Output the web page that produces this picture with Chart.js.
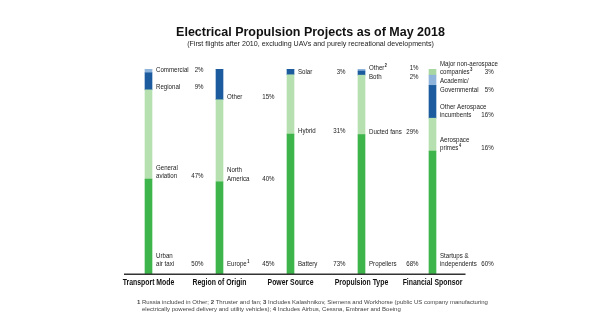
<!DOCTYPE html>
<html><head><meta charset="utf-8">
<script src="https://cdn.jsdelivr.net/npm/chart.js@4/dist/chart.umd.min.js"></script>
<style>html,body{margin:0;padding:0;background:#fff;overflow:hidden}</style>
</head><body>
<canvas id="c" width="595" height="335"></canvas>
<script>
// ---- data ----
const categories = ['Transport Mode', 'Region of Origin', 'Power Source', 'Propulsion Type', 'Financial Sponsor'];
// segments listed bottom -> top
const transportLabels = ['Urban\nair taxi', 'General\naviation', 'Regional', 'Commercial'];
const transportValues = [50, 47, 9, 2];
const regionLabels = ['Europe^1', 'North\nAmerica', 'Other'];
const regionValues = [45, 40, 15];
const powerLabels = ['Battery', 'Hybrid', 'Solar'];
const powerValues = [73, 31, 3];
const propulsionLabels = ['Propellers', 'Ducted fans', 'Both', 'Other^2'];
const propulsionValues = [68, 29, 2, 1];
const sponsorLabels = ['Startups &\nindependents', 'Aerospace\nprimes^4', 'Other Aerospace\nincumbents', 'Academic/\nGovernmental', 'Major non-aerospace\ncompanies^3'];
const sponsorValues = [60, 16, 16, 5, 3];

const titleText = 'Electrical Propulsion Projects as of May 2018';
const subtitleText = '(First flights after 2010, excluding UAVs and purely recreational developments)';
const footnoteLine1 = [['1', true], [' Russia included in Other; ', false], ['2', true], [' Thruster and fan; ', false], ['3', true], [' Includes Kalashnikov, Siemens and Workhorse (public US company manufacturing', false]];
const footnoteLine2 = [['electrically powered delivery and utility vehicles); ', false], ['4', true], [' Includes Airbus, Cessna, Embraer and Boeing', false]];

// ---- build ----
const allLabels = [transportLabels, regionLabels, powerLabels, propulsionLabels, sponsorLabels];
const allValues = [transportValues, regionValues, powerValues, propulsionValues, sponsorValues];
const levelColors = ['#3db54a', '#b6e0b0', '#1b5b9e', '#8fb4dc', '#a9d7a2'];
const nLevels = Math.max(...allValues.map(v => v.length));
const totals = allValues.map(v => v.reduce((a, b) => a + b, 0));
const datasets = [];
for (let l = 0; l < nLevels; l++) {
  datasets.push({
    data: allValues.map((v, i) => (l < v.length ? v[l] / totals[i] * 100 : 0)),
    backgroundColor: levelColors[l],
    borderWidth: 0,
    barThickness: 7,
    stack: 's'
  });
}

const SANS = '"Liberation Sans", Arial, Helvetica, sans-serif';
const SX = 0.83; // condensed look
const FS = 7.4;

function narrow(ctx, text, x, y, align) {
  ctx.save();
  ctx.translate(x, y);
  ctx.scale(SX, 1);
  ctx.textAlign = align;
  ctx.fillText(text, 0, 0);
  ctx.restore();
  return ctx.measureText(text).width * SX;
}
function richWidth(ctx, text) {
  const parts = text.split('^');
  ctx.font = `${FS}px ${SANS}`;
  let w = ctx.measureText(parts[0]).width * SX;
  if (parts[1]) { ctx.font = `bold ${FS * 0.62}px ${SANS}`; w += ctx.measureText(parts[1]).width * SX + 0.6; }
  return w;
}
function drawRich(ctx, text, x, y) {
  const parts = text.split('^');
  ctx.font = `${FS}px ${SANS}`;
  const w = narrow(ctx, parts[0], x, y, 'left');
  if (parts[1]) {
    ctx.font = `bold ${FS * 0.62}px ${SANS}`;
    narrow(ctx, parts[1], x + w + 0.5, y - FS * 0.34, 'left');
  }
}

const textPlugin = {
  id: 'texts',
  afterDraw(chart) {
    const ctx = chart.ctx;
    const xs = chart.scales.x;
    ctx.save();
    ctx.fillStyle = '#111';
    ctx.textBaseline = 'middle';
    // title
    ctx.textAlign = 'center';
    ctx.font = `bold 12.5px ${SANS}`;
    ctx.fillText(titleText, 310.5, 32.5);
    ctx.font = `7.1px ${SANS}`;
    ctx.fillStyle = '#222';
    ctx.fillText(subtitleText, 310.5, 44);

    // baseline
    const x0 = xs.getPixelForValue(0), x4 = xs.getPixelForValue(categories.length - 1);
    const yb = chart.scales.y.getPixelForValue(0);
    ctx.strokeStyle = '#333';
    ctx.lineWidth = 1.4;
    ctx.beginPath();
    ctx.moveTo(x0 - 24.5, yb + 0.3);
    ctx.lineTo(x4 + 33, yb + 0.3);
    ctx.stroke();

    // category labels
    ctx.fillStyle = '#111';
    ctx.font = `bold 8.3px ${SANS}`;
    categories.forEach((c, i) => narrow(ctx, c, xs.getPixelForValue(i), yb + 8.5, 'center'));

    // segment labels
    const LH = 8.5;
    allLabels.forEach((labels, i) => {
      const bx = chart.getDatasetMeta(0).data[i].x;
      // percent column: at least bx+55, pushed right if a label's last line is long
      let col = bx + 55;
      labels.forEach((lab, l) => {
        const lines = lab.split('\n');
        ctx.font = `${FS}px ${SANS}`;
        const pw = ctx.measureText(allValues[i][l] + '%').width * SX;
        col = Math.max(col, bx + 7.5 + richWidth(ctx, lines[lines.length - 1]) + 4.5 + pw);
      });
      let prevLast = null;
      for (let l = labels.length - 1; l >= 0; l--) {
        const el = chart.getDatasetMeta(l).data[i];
        const lines = labels[l].split('\n');
        let last = el.base - (l === 0 ? 10 : 3);
        let first = last - (lines.length - 1) * LH;
        if (prevLast !== null && first < prevLast + 9) {
          const s = prevLast + 9 - first;
          first += s; last += s;
        }
        ctx.fillStyle = '#1a1a1a';
        lines.forEach((ln, k) => drawRich(ctx, ln, el.x + 7.5, first + k * LH));
        ctx.font = `${FS}px ${SANS}`;
        narrow(ctx, allValues[i][l] + '%', col, last, 'right');
        prevLast = last;
      }
    });

    // footnotes
    ctx.textAlign = 'left';
    ctx.fillStyle = '#444';
    const drawLine = (segs, x, y) => {
      segs.forEach(([t, b]) => {
        ctx.font = `${b ? 'bold ' : ''}6px ${SANS}`;
        ctx.fillText(t, x, y);
        x += ctx.measureText(t).width;
      });
    };
    drawLine(footnoteLine1, 137, 302);
    drawLine(footnoteLine2, 142, 309.5);
    ctx.restore();
  }
};

new Chart(document.getElementById('c'), {
  type: 'bar',
  data: { labels: categories, datasets },
  options: {
    responsive: false,
    animation: false,
    devicePixelRatio: 1,
    layout: { padding: { left: 113, right: 127, top: 69, bottom: 61 } },
    plugins: { legend: { display: false }, tooltip: { enabled: false }, title: { display: false } },
    scales: {
      x: { stacked: true, display: false },
      y: { stacked: true, display: false, min: 0, max: 100 }
    }
  },
  plugins: [textPlugin]
});
</script>
</body></html>
